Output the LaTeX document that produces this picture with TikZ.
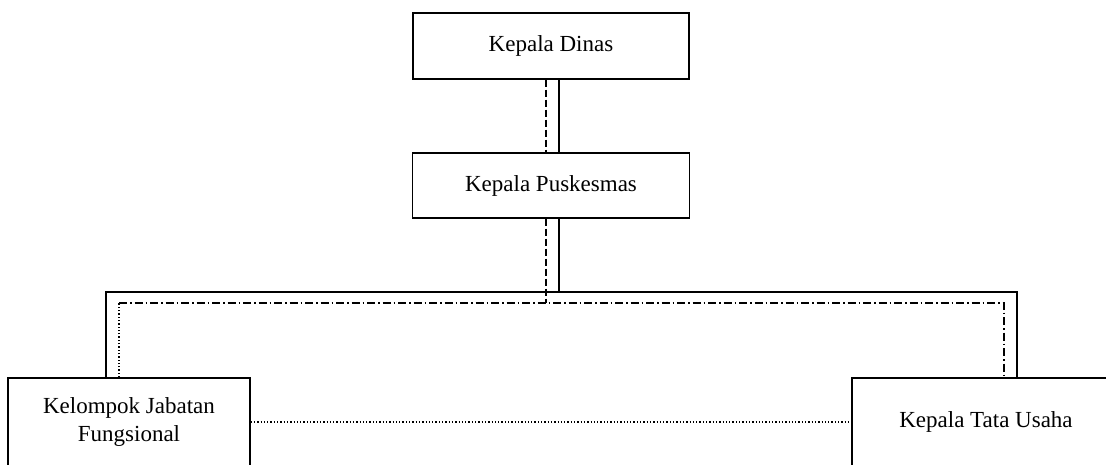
\documentclass[tikz,border=0pt]{standalone}
\usepackage{fontspec}
\setmainfont{Liberation Serif}
\usetikzlibrary{positioning}

\begin{document}
\begin{tikzpicture}[x=1pt,y=-1pt]
				\tikzset{block/.style={draw,line width=1.3pt,align=center,inner sep=0pt,font=\fontsize{23}{28}\selectfont},
					link/.style={line width=1.3pt},
					broken/.style={dash pattern=on 7pt off 3pt}}
				\useasboundingbox (0,0) rectangle (1106,464);
				\node [block,minimum width=276pt,minimum height=66pt] (dinas) at (551,46) {Kepala Dinas};
				\node [block,minimum width=277pt,minimum height=65pt] (pusk) at (551,185.5) {Kepala Puskesmas};
				\node [block,minimum width=242pt,minimum height=88pt] (jabatan) at (129,422) {Kelompok Jabatan\\Fungsional};
				\node [block,minimum width=268pt,minimum height=88pt] (tu) at (986,422) {Kepala Tata Usaha};
				\coordinate (busL) at (106,292);
				\coordinate (busR) at (1017,292);
				\coordinate (inL) at (119,303);
				\coordinate (inR) at (1004,303);
				% Dinas to Puskesmas
				\draw[link,broken] ([xshift=-5pt]dinas.south) -- ([xshift=-5pt]pusk.north);
				\draw[link] ([xshift=8pt]dinas.south) -- ([xshift=8pt]pusk.north);
				% Puskesmas to the two lines below
				\draw[link,broken] ([xshift=-5pt]pusk.south) -- ([xshift=-5pt]pusk.south |- inL);
				\draw[link] ([xshift=8pt]pusk.south) -- ([xshift=8pt]pusk.south |- busL);
				\draw[link] (jabatan.north -| busL) -- (busL) -- (busR) -- (tu.north -| busR);
				\draw[link,dotted] (jabatan.north -| inL) -- (inL);
				\draw[link,dash pattern=on 8pt off 3pt on 1.5pt off 3pt] (inL) -- (inR) -- (tu.north -| inR);
				% between the two lower boxes
				\path[draw,link,dotted] (jabatan) edge (tu);
			\end{tikzpicture}
\end{document}
